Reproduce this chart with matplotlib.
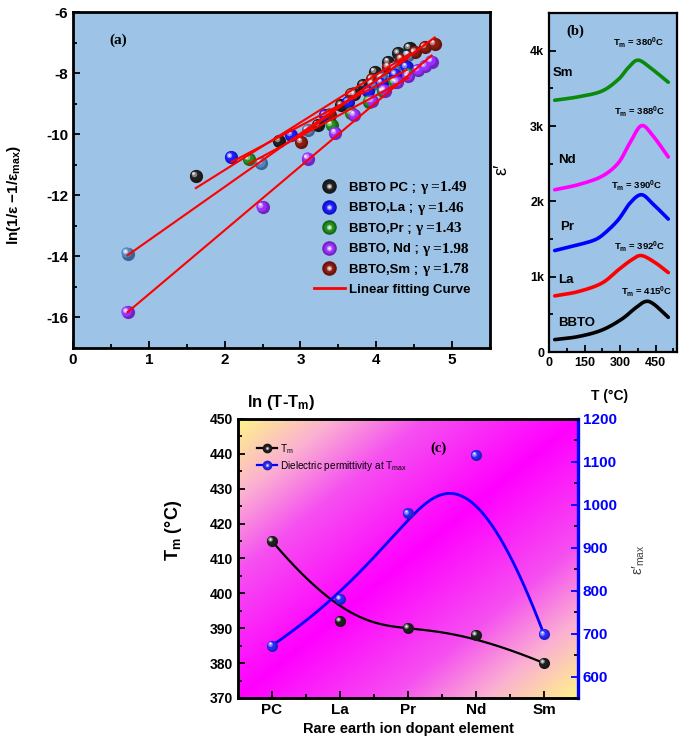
import numpy as np
import matplotlib
matplotlib.use("Agg")
import matplotlib.pyplot as plt
from matplotlib.lines import Line2D
from matplotlib.legend_handler import HandlerTuple
from matplotlib.colors import LinearSegmentedColormap, to_rgb
from matplotlib.transforms import offset_copy
from matplotlib.ticker import MultipleLocator, FuncFormatter

plt.rcParams['font.family'] = ['Liberation Sans', 'DejaVu Sans']
plt.rcParams['font.weight'] = 'bold'
plt.rcParams['axes.unicode_minus'] = False
plt.rcParams['mathtext.fontset'] = 'custom'
plt.rcParams['mathtext.rm'] = 'Liberation Sans'
plt.rcParams['mathtext.bf'] = 'Liberation Sans:bold'
plt.rcParams['mathtext.default'] = 'regular'

# ---------------- data: panel (a) ----------------
pc_x = [1.62, 2.72, 3.23, 3.54, 3.71, 3.83, 3.98, 4.16, 4.29, 4.44]
pc_y = [-11.37, -10.22, -9.70, -9.05, -8.67, -8.40, -7.96, -7.63, -7.35, -7.17]
la_x = [2.09, 2.88, 3.32, 3.63, 3.89, 4.07, 4.25, 4.40]
la_y = [-10.76, -10.03, -9.38, -8.95, -8.58, -8.32, -8.05, -7.80]
pr_x = [2.32, 3.41, 3.67, 3.91, 4.09, 4.24, 4.42]
pr_y = [-10.82, -9.70, -9.30, -8.93, -8.60, -8.29, -8.02]
nd_x = [0.72, 2.50, 3.10, 3.46, 3.71, 3.94, 4.11, 4.27, 4.42, 4.55, 4.64, 4.73]
nd_y = [-15.83, -12.38, -10.80, -9.96, -9.37, -8.91, -8.57, -8.30, -8.11, -7.89, -7.78, -7.62]
sm_x = [3.01, 3.39, 3.67, 3.94, 4.16, 4.33, 4.51, 4.64, 4.77]
sm_y = [-10.25, -9.36, -8.69, -8.20, -7.80, -7.53, -7.32, -7.15, -7.04]
extra_x = [0.72, 2.48, 3.10, 3.71, 3.95, 4.07, 4.24, 4.42]
extra_y = [-13.91, -10.94, -9.87, -8.69, -8.35, -8.15, -7.80, -7.40]
a_labels = ["BBTO PC ;", "BBTO,La ;", "BBTO,Pr ;", "BBTO, Nd ;", "BBTO,Sm ;"]
a_gamma = ["1.49", "1.46", "1.43", "1.98", "1.78"]

# ---------------- data: panel (b) ----------------
T_bbto = [24, 123, 222, 306, 363, 405, 440, 503]
e_bbto = [165, 205, 290, 435, 581, 669, 640, 461]
T_la = [24, 123, 222, 292, 348, 390, 447, 503]
e_la = [745, 802, 913, 1090, 1223, 1280, 1188, 1055]
T_pr = [24, 123, 193, 235, 292, 341, 390, 440, 503]
e_pr = [1347, 1423, 1489, 1578, 1755, 1975, 2088, 1960, 1765]
T_nd = [24, 123, 222, 292, 341, 390, 440, 503]
e_nd = [2154, 2221, 2331, 2509, 2775, 3005, 2863, 2589]
T_sm = [24, 123, 222, 292, 334, 376, 433, 503]
e_sm = [3342, 3387, 3462, 3617, 3773, 3874, 3759, 3581]
b_names = ["BBTO", "La", "Pr", "Nd", "Sm"]
b_tm = ["415", "392", "390", "388", "380"]

# ---------------- data: panel (c) ----------------
dopants = ["PC", "La", "Pr", "Nd", "Sm"]
tm_vals = [415, 392, 390, 388, 380]
eps_max = [672, 780, 980, 1115, 698]


def bspline(xc, yc, n=300, k=3):
    P = np.column_stack([xc, yc]).astype(float)
    m = len(P)
    knots = np.concatenate([np.zeros(k + 1), np.arange(1, m - k), np.full(k + 1, m - k)]).astype(float)
    t = np.linspace(0, m - k, n)
    t[-1] -= 1e-9
    N = np.zeros((n, len(knots) - 1))
    for i in range(len(knots) - 1):
        N[:, i] = (t >= knots[i]) & (t < knots[i + 1])
    for p in range(1, k + 1):
        Nn = np.zeros((n, len(knots) - 1 - p))
        for i in range(len(knots) - 1 - p):
            a = knots[i + p] - knots[i]
            b = knots[i + p + 1] - knots[i + 1]
            term = 0
            if a > 0:
                term = term + (t - knots[i]) / a * N[:, i]
            if b > 0:
                term = term + (knots[i + p + 1] - t) / b * N[:, i + 1]
            Nn[:, i] = term
        N = Nn
    C = N @ P
    return C[:, 0], C[:, 1]


def catmull(xs, ys, n=20):
    P = np.column_stack([xs, ys]).astype(float)
    P = np.vstack([2 * P[0] - P[1], P, 2 * P[-1] - P[-2]])
    out = []
    s = np.linspace(0, 1, n, endpoint=False)
    for i in range(1, len(P) - 2):
        p0, p1, p2, p3 = P[i - 1], P[i], P[i + 1], P[i + 2]
        s2, s3 = s ** 2, s ** 3
        c = 0.5 * ((2 * p1)[None, :] + np.outer(s, -p0 + p2) + np.outer(s2, 2 * p0 - 5 * p1 + 4 * p2 - p3)
                   + np.outer(s3, -p0 + 3 * p1 - 3 * p2 + p3))
        out.append(c)
    out.append(P[-2][None, :])
    C = np.vstack(out)
    return C[:, 0], C[:, 1]


fig = plt.figure(figsize=(6.85, 7.43), dpi=100)


def tint(c, f):
    r = np.array(to_rgb(c))
    return tuple(r + (1 - r) * f)


def shade(c, f):
    r = np.array(to_rgb(c))
    return tuple(r * (1 - f))


def spheres(ax, x, y, color, ms, z):
    ax.plot(x, y, 'o', ls='none', color=shade(color, 0.25), ms=ms, mew=0, zorder=z)
    tr1 = offset_copy(ax.transData, fig=fig, x=-ms * 0.09, y=ms * 0.09, units='points')
    ax.plot(x, y, 'o', ls='none', color=color, ms=ms * 0.78, mew=0, transform=tr1, zorder=z + 0.05)
    tr2 = offset_copy(ax.transData, fig=fig, x=-ms * 0.17, y=ms * 0.17, units='points')
    ax.plot(x, y, 'o', ls='none', color=tint(color, 0.45), ms=ms * 0.42, mew=0, transform=tr2, zorder=z + 0.08)
    tr3 = offset_copy(ax.transData, fig=fig, x=-ms * 0.2, y=ms * 0.2, units='points')
    ax.plot(x, y, 'o', ls='none', color=tint(color, 0.9), ms=ms * 0.2, mew=0, transform=tr3, zorder=z + 0.1)


def sphere_handle(color, ms, line=False, lw=1.6, lcolor=None):
    base = Line2D([], [], marker='o', ls='-' if line else 'none', lw=lw, color=lcolor or color,
                  mfc=shade(color, 0.25), mec=shade(color, 0.25), ms=ms)
    mid = Line2D([], [], marker='o', ls='none', color=color, ms=ms * 0.78, mew=0)
    light = Line2D([], [], marker='o', ls='none', color=tint(color, 0.45), ms=ms * 0.42, mew=0)
    hl = Line2D([], [], marker='o', ls='none', color=tint(color, 0.9), ms=ms * 0.2, mew=0)
    return (base, mid, light, hl)


def style_ax(ax, lw=1.6):
    for s in ax.spines.values():
        s.set_linewidth(lw)
    ax.tick_params(which='both', direction='in', width=1.3, labelsize=10)
    ax.tick_params(which='major', length=5)
    ax.tick_params(which='minor', length=3)


# ================= panel (a) =================
bg = '#9DC3E6'
axa = fig.add_axes([0.1066, 0.5316, 0.6088, 0.4522])
axa.set_facecolor(bg)
series = [(pc_x, pc_y, '#202020'), (la_x, la_y, '#1a1aff'),
          (pr_x, pr_y, '#1f8f1f'), (nd_x, nd_y, '#9a30ff'),
          (sm_x, sm_y, '#8b1a10')]
spheres(axa, extra_x, extra_y, '#4f86c0', 9.5, 3)
for (xs, ys, c) in series:
    spheres(axa, xs, ys, c, 9.5, 3)
for (xs, ys) in [(pc_x, pc_y), (la_x, la_y), (pr_x, pr_y), (nd_x, nd_y), (sm_x, sm_y), (extra_x, extra_y)]:
    k, b0 = np.polyfit(xs, ys, 1)
    xx = np.array([min(xs), max(xs)])
    axa.plot(xx, k * xx + b0, color='#ff0000', lw=1.5, zorder=5)
axa.set_xlim(0, 5.5)
axa.set_ylim(-17, -6)
axa.xaxis.set_major_locator(MultipleLocator(1))
axa.xaxis.set_minor_locator(MultipleLocator(0.5))
axa.yaxis.set_major_locator(MultipleLocator(2))
axa.yaxis.set_minor_locator(MultipleLocator(1))
style_ax(axa, 2.0)
axa.tick_params(labelsize=11)
axa.set_xlabel("ln (T-T$_m$)", fontsize=12, fontweight='bold')
axa.xaxis.set_label_coords(0.5, -0.135)
axa.set_ylabel("ln(1/ε −1/ε$_{max}$)", fontsize=11, fontweight='bold')
axa.yaxis.set_label_coords(-0.12, 0.455)
axa.text(0.59, -6.92, "(a)", fontsize=11, fontweight='bold', family='Liberation Serif', ha='center', va='center')

handles = [sphere_handle(c, 9.5) for (_, _, c) in series]
handles.append(Line2D([], [], color='#ff0000', lw=2))
labels = list(a_labels) + ["Linear fitting Curve"]
leg = axa.legend(handles, labels, handler_map={tuple: HandlerTuple(ndivide=1)}, loc='upper left',
                 bbox_to_anchor=(0.577, 0.495), frameon=False, fontsize=9.5, handlelength=2.4,
                 handletextpad=0.25, labelspacing=0.62, borderpad=0.0, borderaxespad=0.0)

# ================= panel (b) =================
axb = fig.add_axes([0.8015, 0.5262, 0.1869, 0.4563])
axb.set_facecolor(bg)
b_series = [(T_bbto, e_bbto, '#000000'), (T_la, e_la, '#ff0000'), (T_pr, e_pr, '#0000ff'),
            (T_nd, e_nd, '#ff00ff'), (T_sm, e_sm, '#0a8a0a')]
name_pos = [(37, 390), (38, 957), (45, 1666), (38, 2553), (17, 3706)]
tm_pos = [(411, 802), (383, 1400), (369, 2207), (383, 3195), (377, 4105)]
for (Ts, es, c), nm, npos, tm, tpos in zip(b_series, b_names, name_pos, b_tm, tm_pos):
    cx, cy = catmull(Ts, es)
    axb.plot(cx, cy, color=c, lw=2.6, solid_capstyle='round')
    axb.text(npos[0], npos[1], nm, fontsize=9.5, fontweight='bold', ha='left', va='center')
    axb.text(tpos[0], tpos[1], "T$_m$ = " + tm + "$^0$C", fontsize=6.8, fontweight='bold',
             ha='center', va='center')
axb.text(109, 4259, "(b)", fontsize=10.5, fontweight='bold', family='Liberation Serif', ha='center', va='center')
axb.set_xlim(0, 540)
axb.set_ylim(0, 4500)
axb.xaxis.set_major_locator(MultipleLocator(150))
axb.xaxis.set_minor_locator(MultipleLocator(75))
axb.yaxis.set_major_locator(MultipleLocator(1000))
axb.yaxis.set_minor_locator(MultipleLocator(500))
axb.yaxis.set_major_formatter(FuncFormatter(lambda v, p: "0" if v == 0 else f"{int(v/1000)}k"))
style_ax(axb, 1.6)
axb.tick_params(labelsize=9)
axb.set_xlabel("T (°C)", fontsize=10, fontweight='bold')
axb.xaxis.set_label_coords(0.47, -0.11)
axb.set_ylabel("ε′", fontsize=13, fontweight='normal')
axb.yaxis.set_label_coords(-0.30, 0.54)

# ================= panel (c) =================
axc = fig.add_axes([0.3474, 0.0606, 0.4964, 0.3755])
cmap = LinearSegmentedColormap.from_list('bgc', [(0, '#ff00ff'), (0.45, '#f550f0'), (0.72, '#fbb0d2'), (1.0, '#fff488')])
u, v = np.meshgrid(np.linspace(0, 1, 300), np.linspace(1, 0, 300))
axc.imshow(np.abs(v - u), cmap=cmap, vmin=0, vmax=1, extent=[0, 1, 0, 1], transform=axc.transAxes,
           aspect='auto', zorder=0, interpolation='bilinear')
xi = np.arange(len(dopants))
bx, by = bspline(xi, tm_vals)
axc.plot(bx, by, color='black', lw=1.6, zorder=3)
spheres(axc, xi, tm_vals, '#202020', 8, 4)
axc.set_xlim(-0.5, 4.5)
axc.set_ylim(370, 450)
axc.set_xticks(xi)
axc.set_xticklabels(dopants)
axc.xaxis.set_minor_locator(MultipleLocator(0.5))
axc.yaxis.set_major_locator(MultipleLocator(10))
axc.yaxis.set_minor_locator(MultipleLocator(5))
style_ax(axc, 1.8)
axc.tick_params(axis='x', labelsize=11)
axc.set_xlabel("Rare earth ion dopant element", fontsize=10.5, fontweight='bold')
axc.set_ylabel("T$_m$ (°C)", fontsize=13, fontweight='bold')
axc.yaxis.set_label_coords(-0.16, 0.60)
axc.text(2.45, 441.7, "(c)", fontsize=10.5, fontweight='bold', family='Liberation Serif', ha='center', va='center')

ax2 = axc.twinx()
ex, ey = bspline(xi, eps_max)
ax2.plot(ex, ey, color='#0000ff', lw=2.0, zorder=3)
spheres(ax2, xi, eps_max, '#2a2aff', 8, 4)
ax2.set_ylim(550, 1200)
ax2.yaxis.set_major_locator(MultipleLocator(100))
ax2.yaxis.set_minor_locator(MultipleLocator(50))
style_ax(ax2, 1.8)
ax2.spines['right'].set_color('#0000ff')
ax2.spines['right'].set_linewidth(2.4)
ax2.tick_params(axis='y', colors='#0000ff', labelsize=11)
for lab in ax2.get_yticklabels():
    lab.set_fontweight('bold')
ax2.set_ylabel("ε′$_{max}$", fontsize=10.5, fontweight='normal', color='#444444', rotation=90)
ax2.yaxis.set_label_coords(1.155, 0.495)

hc = [sphere_handle('#202020', 6, line=True, lcolor='black'),
      sphere_handle('#2a2aff', 6, line=True, lcolor='#0000ff')]
ax2.legend(hc, ["T$_m$", "Dielectric permittivity at T$_{max}$"],
           handler_map={tuple: HandlerTuple(ndivide=1)}, loc='upper left',
           bbox_to_anchor=(0.03, 0.95), frameon=False, handlelength=2.0,
           handletextpad=0.3, labelspacing=0.3, prop={'weight': 'normal', 'size': 7.2})

# serif "γ =value" parts of the legend of panel (a), placed after the sans labels
fig.canvas.draw()
renderer = fig.canvas.get_renderer()
inv = fig.transFigure.inverted()
for txt, g in zip(leg.get_texts()[:5], a_gamma):
    bb = txt.get_window_extent(renderer)
    x0, yc = inv.transform((bb.x1 + 4, (bb.y0 + bb.y1) / 2))
    fig.text(x0, yc, "γ =" + g, fontsize=11, fontweight='bold',
             family=['Liberation Serif', 'DejaVu Serif'], ha='left', va='center')

fig.savefig("out.png", dpi=100)
